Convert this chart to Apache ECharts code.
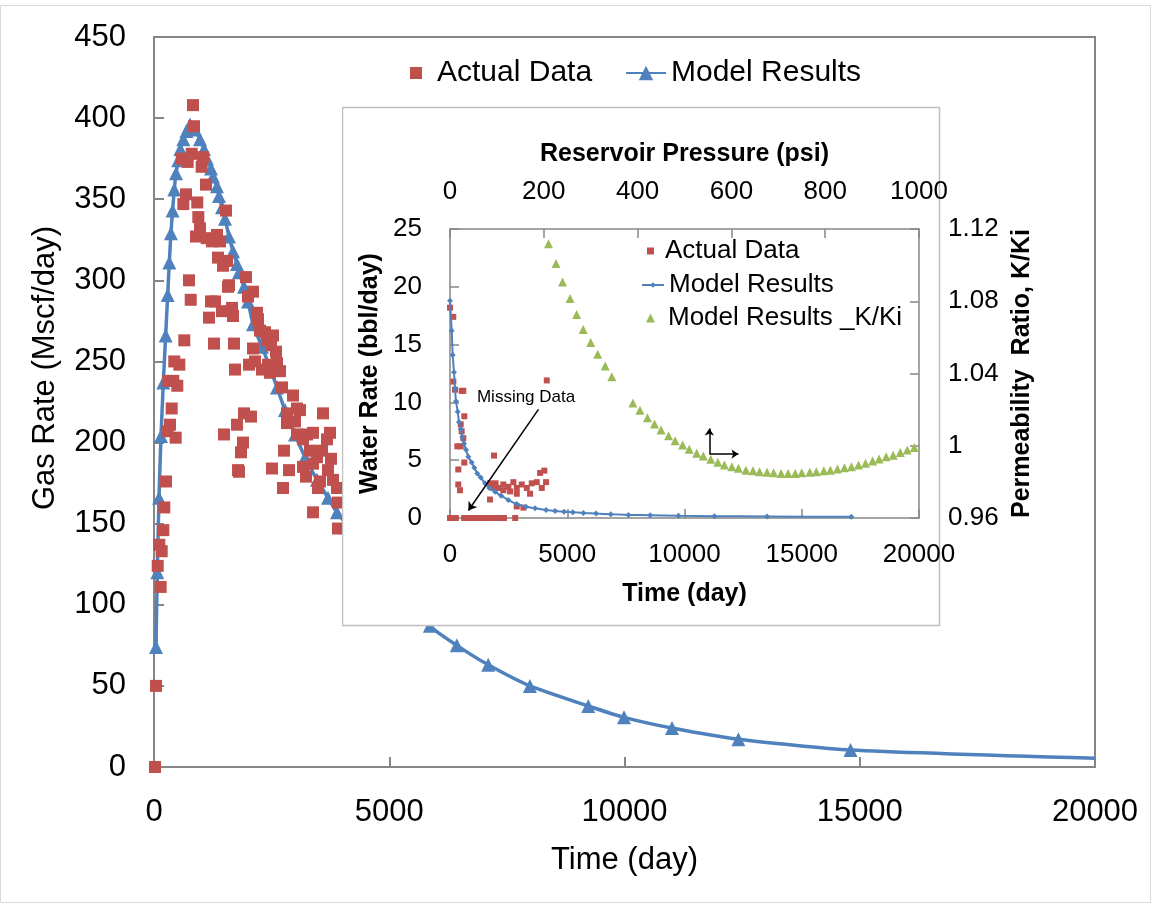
<!DOCTYPE html>
<html>
<head>
<meta charset="utf-8">
<script src="https://cdn.jsdelivr.net/npm/echarts@6/dist/echarts.min.js"></script>
<style>
  html, body { margin: 0; padding: 0; background: #fff; }
  #main  { position: absolute; left: 0; top: 0; width: 1154px; height: 907px; }
  #inset { position: absolute; left: 342px; top: 100px; width: 720px; height: 530px; }
</style>
</head>
<body>
<div id="main"></div>
<div id="inset"></div>
<script>
// ---- data ----
// main chart: gas rate (Mscf/day) vs time (day)
const gasActual = [
  [21,0],[42,50],[79,124],[113,137],[142,111],[164,133],[198,146],[219,160],[255,176],[291,207],
  [340,211],[376,221],[461,203],[304,238],[410,238],[495,235],[431,250],[538,248],[589,375],[644,263],
  [680,353],[623,347],[716,373],[744,300],[780,288],[801,378],[829,408],[850,395],[893,327],[920,348],
  [942,339],[978,332],[1013,370],[1041,376],[1105,359],[1120,326],[1169,277],[1211,287],[1233,324],[1275,261],
  [1296,287],[1339,328],[1360,314],[1403,324],[1445,281],[1467,309],[1488,205],[1530,343],[1551,312],[1573,296],
  [1594,297],[1658,283],[1679,278],[1700,261],[1722,245],[1764,211],[1786,183],[1807,182],[1849,194],[1892,200],
  [1913,218],[1955,302],[1998,290],[2019,248],[2062,216],[2104,293],[2104,258],[2147,250],[2189,280],[2210,276],
  [2253,269],[2295,245],[2359,268],[2402,263],[2423,248],[2465,243],[2487,260],[2508,184],[2529,266],[2593,256],
  [2614,249],[2678,244],[2720,234],[2742,172],[2763,195],[2827,218],[2827,212],[2869,183],[2954,229],[2997,213],
  [3039,221],[3039,205],[3103,220],[3167,202],[3167,185],[3231,179],[3252,205],[3316,195],[3380,206],[3380,187],
  [3380,157],[3464,191],[3486,172],[3528,176],[3571,195],[3592,218],[3677,202],[3698,183],[3741,206],[3762,190],
  [3805,177],[3890,172],[3911,163],[3911,147]
];
const gasModel = [
  [42,74],[70,120],[106,166],[149,204],[198,237],[248,266],[291,291],[325,311],[360,329],[395,343],
  [431,356],[468,366],[516,374],[560,381],[623,387],[690,392],[765,396],[871,393],[978,387],[1063,381],
  [1126,375],[1211,369],[1254,364],[1339,358],[1381,352],[1445,345],[1509,338],[1594,327],[1679,318],[1764,310],
  [1807,305],[1913,296],[1998,287],[2104,273],[2295,259],[2455,247],[2614,234],[2784,220],[2997,205],[3210,191],
  [3464,177],[3698,166],[3890,157],[5864,87],[6436,75],[7103,63],[7989,50],[9229,37.6],[9989,30.6],[11010,24],
  [12421,17.1],[14803,10.5]
];
const gasModelTail = [20000, 5.4];   // line runs on to the edge, no marker

// inset: water rate (bbl/day) vs time (day)
const waterActual = [
  [0,18.2],[140,17.4],[142,11.8],[213,11.1],[498,11.0],[568,11.0],[610,8.8],[457,8.1],[498,7.5],[568,6.9],
  [312,6.2],[457,6.2],[610,4.8],[354,4.2],[354,2.9],[427,2.4],[1878,5.4],[4127,11.9],
  [1707,3.0],[1848,2.6],[1707,1.6],[1946,3.0],[2062,2.6],[2275,2.9],[2488,2.7],[2702,3.1],[2847,2.6],[3060,2.9],
  [3274,2.6],[3487,3.0],[3700,3.1],[3841,3.9],[4025,4.1],[4097,3.1],[3914,2.6],[3414,2.1],[2847,2.1],[2561,2.3],
  [2275,2.4],[2847,1.0],[3129,0.9],
  [0,0],[60,0],[130,0],[200,0],[250,0],[600,0],[700,0],[800,0],[900,0],[1000,0],[1100,0],[1200,0],
  [1300,0],[1400,0],[1500,0],[1600,0],[1700,0],[1800,0],[1900,0],[2000,0],[2100,0],[2200,0],[2300,0],[2780,0]
];
const waterModel = [
  [0,18.8],[73,16.2],[115,14.1],[171,12.6],[213,11.2],[256,10.1],[329,9.2],[384,8.3],[457,7.7],[525,7.0],
  [598,6.45],[683,5.9],[781,5.3],[926,4.8],[1037,4.35],[1165,3.86],[1310,3.5],[1494,3.0],[1677,2.6],[1921,2.27],
  [2177,1.93],[2488,1.55],[2847,1.21],[3244,0.98],[3628,0.84],[4097,0.69],[4481,0.6],[4866,0.55],[5236,0.5],[5689,0.44],
  [6231,0.38],[6858,0.32],[7610,0.27],[8536,0.24],[9744,0.2],[11280,0.16],[13517,0.13],[17115,0.1]
];
// inset: permeability ratio K/Ki vs reservoir pressure (psi)
const kRatioModel = [
  [210,1.1118],[226,1.1009],[240,1.0907],[256,1.0815],[270,1.0727],[284,1.0644],[300,1.0572],[315,1.0507],[331,1.0441],[345,1.0382],
  [390,1.0237],[405,1.0197],[421,1.0155],[436,1.012],[450,1.0087],[466,1.0055],[480,1.0028],[496,1.0004],[510,0.998],[526,0.9958],
  [540,0.9943],[556,0.9925],[571,0.9908],[585,0.9893],[601,0.9884],[615,0.9875],[631,0.9865],[646,0.9862],[660,0.9856],[676,0.9853],
  [690,0.9851],[706,0.9847],[721,0.9847],[736,0.9847],[750,0.9851],[767,0.9853],[781,0.9856],[797,0.9862],[811,0.9865],[826,0.9871],
  [841,0.9878],[856,0.9884],[871,0.9893],[886,0.9903],[901,0.9915],[915,0.9926],[930,0.9939],[945,0.9948],[960,0.9963],[975,0.9976],
  [990,0.9991]
];
// annotations
const missingArrow = [[3773, 9.4], [785, 0.65]];   // time, water rate
const missingLabel = [3244, 10.4];
const axisHint = { corner: [553, 0.9954], up: [553, 1.0096], right: [615, 0.9954] };  // pressure, K/Ki

const FONT = 'Liberation Sans';
const GREY = '#868686';
const RED = '#C0504D', BLUE = '#4F81BD', GREEN = '#9BBB59';
const plain = v => String(v);   // no thousands separators

// ---- main chart ----
const main = echarts.init(document.getElementById('main'));
main.setOption({
  animation: false,
  textStyle: { fontFamily: FONT },
  graphic: [{
    type: 'rect', silent: true,
    shape: { x: 0.5, y: 5.5, width: 1150, height: 897 },
    style: { fill: 'none', stroke: '#d9d9d9', lineWidth: 1 }
  }],
  legend: [
    { data: ['Actual Data'], left: 405, top: 53, icon: 'rect', itemWidth: 12, itemHeight: 12,
      textStyle: { fontSize: 30, color: '#000', padding: [0, 0, 0, 10] } },
    { data: ['Model Results'], left: 620, top: 53, itemWidth: 40, itemHeight: 18,
      textStyle: { fontSize: 30, color: '#000' } }
  ],
  grid: { left: 154, right: 59, top: 37, bottom: 140, show: true, borderColor: GREY, borderWidth: 2 },
  xAxis: {
    type: 'value', min: 0, max: 20000, interval: 5000,
    name: 'Time (day)', nameLocation: 'middle', nameGap: 78,
    nameTextStyle: { fontSize: 31, color: '#000' },
    axisLine: { onZero: false, lineStyle: { color: GREY, width: 2 } },
    axisTick: { inside: true, length: 10, lineStyle: { color: GREY, width: 2 } },
    axisLabel: { fontSize: 31, color: '#000', margin: 30, formatter: plain },
    splitLine: { show: false }
  },
  yAxis: {
    type: 'value', min: 0, max: 450, interval: 50,
    name: 'Gas Rate (Mscf/day)', nameLocation: 'middle', nameGap: 93,
    nameTextStyle: { fontSize: 31, color: '#000', padding: [0, 0, 0, 68] },
    axisLine: { show: true, onZero: false, lineStyle: { color: GREY, width: 2 } },
    axisTick: { show: true, inside: true, length: 10, lineStyle: { color: GREY, width: 2 } },
    axisLabel: { fontSize: 31, color: '#000', margin: 28, formatter: plain },
    splitLine: { show: false }
  },
  series: [
    { name: 'Actual Data', type: 'scatter', z: 3, data: gasActual,
      symbol: 'rect', symbolSize: 12, itemStyle: { color: RED, opacity: 1 } },
    { name: 'Model Results', type: 'line', z: 2, smooth: 0.2,
      data: gasModel.concat([{ value: gasModelTail, symbol: 'none' }]),
      symbol: 'triangle', symbolSize: 14, showAllSymbol: true,
      itemStyle: { color: BLUE }, lineStyle: { color: BLUE, width: 3.5 } }
  ]
});

// ---- inset chart ----
const inset = echarts.init(document.getElementById('inset'));
const axisBase = {
  axisLine: { show: true, onZero: false, lineStyle: { color: GREY, width: 1.5 } },
  axisTick: { show: true, inside: true, length: 9, lineStyle: { color: GREY, width: 1.5 } },
  splitLine: { show: false }
};
const titleStyle = { fontSize: 25, fontWeight: 'bold', color: '#000' };
const tickText = { fontSize: 26, color: '#000', formatter: plain };
inset.setOption({
  animation: false,
  textStyle: { fontFamily: FONT },
  graphic: [{
    type: 'rect', silent: true, z: -10,
    shape: { x: 0.5, y: 7.5, width: 597, height: 518 },
    style: { fill: '#fff', stroke: '#bfbfbf', lineWidth: 1.5 }
  }],
  legend: [
    { data: ['Actual Data'], left: 300, top: 133, icon: 'rect', itemWidth: 7, itemHeight: 7,
      textStyle: { fontSize: 26, color: '#000', padding: [0, 0, 0, 6] } },
    { data: ['Model Results'], left: 294, top: 167, itemWidth: 22, itemHeight: 7,
      textStyle: { fontSize: 26, color: '#000' } },
    { data: ['Model Results _K/Ki'], left: 299, top: 200, icon: 'triangle', itemWidth: 9, itemHeight: 9,
      textStyle: { fontSize: 26, color: '#000', padding: [0, 0, 0, 8] } }
  ],
  grid: { left: 108, top: 129, width: 469, height: 289 },
  xAxis: [
    Object.assign({}, axisBase, {
      type: 'value', position: 'bottom', min: 0, max: 20000, interval: 5000,
      name: 'Time (day)', nameLocation: 'middle', nameGap: 64, nameTextStyle: titleStyle,
      axisLabel: Object.assign({ margin: 24 }, tickText)
    }),
    Object.assign({}, axisBase, {
      type: 'value', position: 'top', min: 0, max: 1000, interval: 200,
      name: 'Reservoir Pressure (psi)', nameLocation: 'middle', nameGap: 62, nameTextStyle: titleStyle,
      axisLabel: Object.assign({ margin: 24 }, tickText)
    })
  ],
  yAxis: [
    Object.assign({}, axisBase, {
      type: 'value', position: 'left', min: 0, max: 25, interval: 5,
      name: 'Water Rate (bbl/day)', nameLocation: 'middle', nameGap: 62, nameTextStyle: titleStyle,
      axisLabel: Object.assign({ margin: 28 }, tickText)
    }),
    Object.assign({}, axisBase, {
      type: 'value', position: 'right', min: 0.96, max: 1.12, interval: 0.04,
      name: 'Permeability  Ratio, K/Ki', nameLocation: 'middle', nameGap: 89, nameTextStyle: titleStyle,
      axisLabel: { fontSize: 26, color: '#000', margin: 29 }
    })
  ],
  series: [
    { name: 'Actual Data', type: 'scatter', xAxisIndex: 0, yAxisIndex: 0, data: waterActual,
      symbol: 'rect', symbolSize: 6, itemStyle: { color: RED, opacity: 1 },
      markLine: {
        silent: true, symbol: ['none', 'arrow'], symbolSize: 8,
        label: { show: false }, lineStyle: { color: '#000', width: 1.5, type: 'solid' },
        data: [[{ coord: missingArrow[0] }, { coord: missingArrow[1] }]]
      },
      markPoint: {
        silent: true, symbol: 'circle', symbolSize: 1, itemStyle: { color: 'rgba(0,0,0,0)' },
        label: { show: true, position: 'inside', formatter: 'Missing Data', fontSize: 17, color: '#000' },
        data: [{ coord: missingLabel }]
      }
    },
    { name: 'Model Results', type: 'line', xAxisIndex: 0, yAxisIndex: 0, data: waterModel,
      smooth: 0.2, symbol: 'diamond', symbolSize: 6, showAllSymbol: true,
      itemStyle: { color: BLUE }, lineStyle: { color: BLUE, width: 2 } },
    { name: 'Model Results _K/Ki', type: 'scatter', xAxisIndex: 1, yAxisIndex: 1, data: kRatioModel,
      symbol: 'triangle', symbolSize: 9, itemStyle: { color: GREEN, opacity: 1 },
      markLine: {
        silent: true, symbol: ['none', 'arrow'], symbolSize: 7,
        label: { show: false }, lineStyle: { color: '#000', width: 1.5, type: 'solid' },
        data: [
          [{ coord: axisHint.corner }, { coord: axisHint.up }],
          [{ coord: axisHint.corner }, { coord: axisHint.right }]
        ]
      }
    }
  ]
});
</script>
</body>
</html>
